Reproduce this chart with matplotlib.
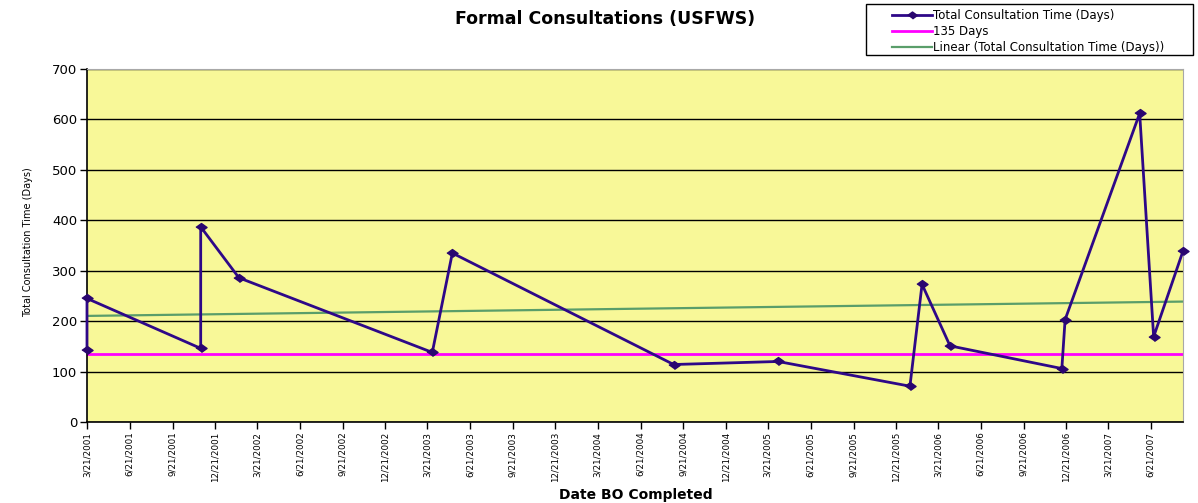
import pandas as pd
import numpy as np
import matplotlib
matplotlib.use('Agg')
import matplotlib.pyplot as plt
import matplotlib.dates as mdates
from matplotlib.lines import Line2D
from matplotlib.patches import Rectangle

# data
dates = ['2001-03-21', '2001-03-21', '2001-11-20', '2001-11-20', '2002-02-10',
         '2003-04-01', '2003-05-14', '2004-08-31', '2005-04-12', '2006-01-20',
         '2006-02-15', '2006-04-16', '2006-12-12', '2006-12-19', '2007-05-28',
         '2007-06-27', '2007-08-29']
days = [142, 245, 146, 387, 286, 138, 335, 114, 120, 71, 273, 151, 106, 203, 612, 169, 339]
limit = 135
tick_start = '2001-03-21'
n_ticks = 26
legend_labels = ['Total Consultation Time (Days)', '135 Days', 'Linear (Total Consultation Time (Days))']

dates = pd.to_datetime(dates)
ticks = pd.date_range(tick_start, periods=n_ticks, freq=pd.DateOffset(months=3))
tick_labels = [f'{d.month}/{d.day}/{d.year}' for d in ticks]

xnum = mdates.date2num(dates)
coef = np.polyfit(xnum, days, 1)

W, H = 1198, 503
LINE_C, LIMIT_C, TREND_C = '#2E0888', '#FF00FF', '#5A9E6A'

plt.rcParams['font.family'] = ['DejaVu Sans']
fig = plt.figure(figsize=(W/100, H/100), dpi=100)
ax = fig.add_axes([87/W, 1-422/H, (1183-87)/W, (422-69)/H])
ax.set_facecolor('#F8F898')

ax.set_ylim(0, 700)
ax.set_yticks(range(0, 701, 100))
ax.grid(axis='y', color='black', lw=1)
ax.set_axisbelow(True)

ax.axhline(limit, color=LIMIT_C, lw=2, zorder=2)
ax.plot(xnum[[0, -1]], np.polyval(coef, xnum[[0, -1]]), color=TREND_C, lw=1.6, zorder=2)
diamond = [(-1.4, 0), (0, 1), (1.4, 0), (0, -1)]
ax.plot(xnum, days, color=LINE_C, lw=2, marker=diamond, ms=8, mfc='#2A0670', mec='#2A0670',
        zorder=3, clip_on=False)

ax.set_xlim(xnum[0], xnum[-1])
ax.set_xticks(mdates.date2num(ticks))
ax.set_xticklabels(tick_labels, rotation=90, fontsize=6.3)
ax.tick_params(axis='y', labelsize=9.5, length=5, width=1, pad=2)
ax.tick_params(axis='x', length=5, width=1, pad=2)

for s in ['top', 'right']:
    ax.spines[s].set_color('#A8A8A8')
for s in ['left', 'bottom']:
    ax.spines[s].set_color('black')
    ax.spines[s].set_linewidth(1.2)

fig.text(605/W, 1-19/H, 'Formal Consultations (USFWS)', fontsize=12.5, fontweight='bold',
         ha='center', va='center')
fig.text(28/W, 1-242/H, 'Total Consultation Time (Days)', fontsize=7, rotation=90,
         ha='center', va='center')
fig.text(636/W, 1-495/H, 'Date BO Completed', fontsize=10, fontweight='bold',
         ha='center', va='center')

# legend box drawn by hand to match the original placement
fig.add_artist(Rectangle((866/W, 1-55/H), (1193-866)/W, 51/H, transform=fig.transFigure,
                         facecolor='white', edgecolor='black', lw=1))
styles = [dict(color=LINE_C, lw=2), dict(color=LIMIT_C, lw=2), dict(color=TREND_C, lw=1.6)]
for i, (lab, st) in enumerate(zip(legend_labels, styles)):
    y = 1 - (15 + 16*i)/H
    fig.add_artist(Line2D([892/W, 932/W], [y, y], transform=fig.transFigure, **st))
    fig.text(933/W, y, lab, fontsize=8.5, ha='left', va='center')
fig.add_artist(Line2D([912/W], [1-15/H], transform=fig.transFigure, marker=diamond, ms=7,
                      color='#2A0670'))

fig.savefig('out.png', dpi=100)
